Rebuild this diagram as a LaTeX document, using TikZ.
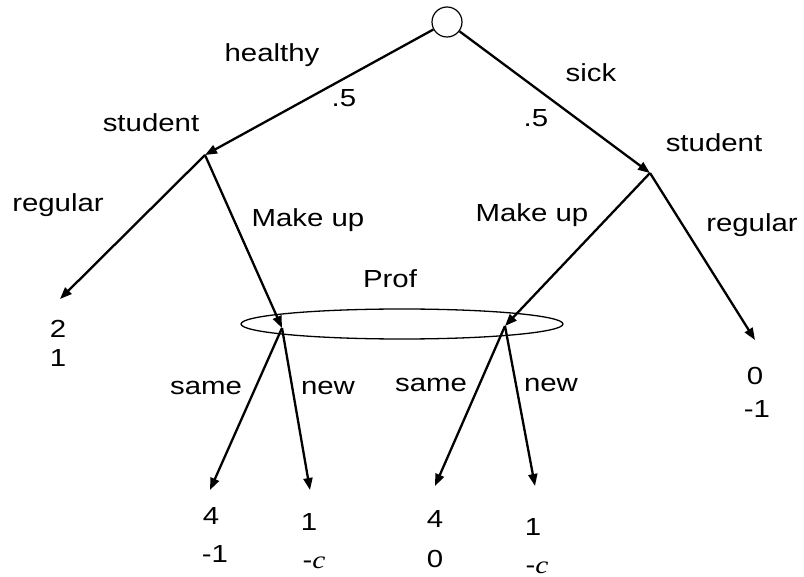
\documentclass[tikz,border=0pt]{standalone}
\usepackage{fontspec}
\setmainfont[FakeStretch=1.19]{Liberation Sans}
\newfontfamily\cfont[FakeStretch=1.19]{Liberation Serif}
\usetikzlibrary{arrows.meta,shapes.geometric}
\begin{document}
\begin{tikzpicture}[x=1pt,y=-1pt,
  every node/.style={font=\fontsize{24.7}{30}\selectfont, inner sep=0pt},
  lbl/.style={anchor=base},
  arr/.style={line width=2.3pt, -{Triangle[length=12pt,width=9pt]}},
  chance/.style={circle, draw, line width=1.2pt, minimum size=30pt, fill=white}]
\useasboundingbox (0,0) rectangle (804,577);
% info set
\node[ellipse, draw, line width=1.3pt, minimum width=322pt, minimum height=30pt] (info) at (402,324) {};
% points
\node[chance] (root) at (447,22) {};
\coordinate (hs) at (205,155);
\coordinate (ss) at (650,173);
\coordinate (lt) at (60,299);
\coordinate (hm) at (282,328);
\coordinate (sm) at (505,326);
\coordinate (rt) at (755,340);
\coordinate (a1) at (210,490);
\coordinate (a2) at (310,490);
\coordinate (a3) at (435,486);
\coordinate (a4) at (535,486);
% edges
\draw[arr] (root) -- (hs);
\draw[arr] (root) -- (ss);
\draw[arr] (hs) -- (lt);
\draw[arr] (hs) -- (hm);
\draw[arr] (ss) -- (sm);
\draw[arr] (ss) -- (rt);
\draw[arr] (hm) -- (a1);
\draw[arr] (hm) -- (a2);
\draw[arr] (sm) -- (a3);
\draw[arr] (sm) -- (a4);
% labels
\node[lbl] (t1) at (272,62) {healthy};
\node[lbl] (t2) at (344,107) {.5};
\node[lbl] (t3) at (591,82) {sick};
\node[lbl] (t4) at (536,127) {.5};
\node[lbl] (t5) at (151,132) {student};
\node[lbl] (t6) at (714,152) {student};
\node[lbl] (t7) at (58,212) {regular};
\node[lbl] (t8) at (308,227) {Make up};
\node[lbl] (t9) at (532,222) {Make up};
\node[lbl] (t10) at (752,232) {regular};
\node[lbl] (t11) at (390,288) {Prof};
\node[lbl] (t12) at (206,395) {same};
\node[lbl] (t13) at (328,395) {new};
\node[lbl] (t14) at (431,392) {same};
\node[lbl] (t15) at (551,392) {new};
% payoffs
\node[lbl] (p1a) at (58,338) {2};
\node[lbl] (p1b) at (58,367) {1};
\node[lbl] (p2a) at (755,385) {0};
\node[lbl] (p2b) at (757,418) {-1};
\node[lbl] (p3a) at (211,525) {4};
\node[lbl] (p3b) at (215,562) {-1};
\node[lbl] (p4a) at (309,530) {1};
\node[lbl] (p4b) at (314,568) {-{\cfont\itshape c}};
\node[lbl] (p5a) at (435,527) {4};
\node[lbl] (p5b) at (435,567) {0};
\node[lbl] (p6a) at (533,535) {1};
\node[lbl] (p6b) at (537,573) {-{\cfont\itshape c}};
\end{tikzpicture}
\end{document}
